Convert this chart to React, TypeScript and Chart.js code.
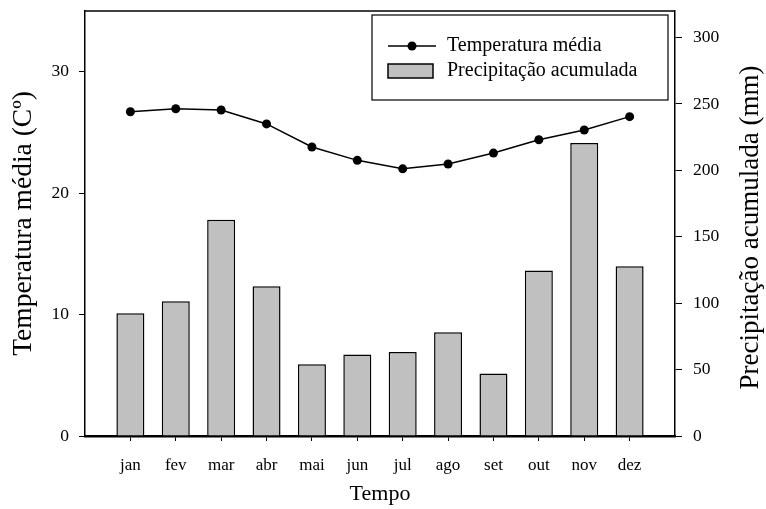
import React, { useEffect, useRef } from "react";
import { Chart, registerables } from "chart.js";

Chart.register(...registerables);

const months = ["jan", "fev", "mar", "abr", "mai", "jun", "jul", "ago", "set", "out", "nov", "dez"];
const temperature = [26.7, 26.95, 26.85, 25.7, 23.8, 22.7, 22.0, 22.4, 23.3, 24.4, 25.2, 26.3];
const precipitation = [92.4, 101.5, 162.8, 112.8, 54.0, 61.3, 63.3, 78.1, 47.0, 124.6, 220.6, 127.9];
const tempLabel = "Temperatura média";
const precLabel = "Precipitação acumulada";
const xTitle = "Tempo";
const yLeftTitle = "Temperatura média (Cº)";
const yRightTitle = "Precipitação acumulada (mm)";

const FONT = "'Liberation Serif', 'Times New Roman', serif";

const framePlugin = {
  id: "frame",
  afterDatasetsDraw(chart: any) {
    const { ctx, chartArea } = chart;
    const { left, right, top, bottom } = chartArea;
    ctx.save();
    ctx.strokeStyle = "#000";
    ctx.lineWidth = 1.5;
    ctx.beginPath();
    ctx.moveTo(left, top);
    ctx.lineTo(right, top);
    ctx.stroke();

    // legend box
    const bw = 296, bh = 85;
    const bx = right - 7 - bw;
    const by = top + 4;
    ctx.fillStyle = "#fff";
    ctx.fillRect(bx, by, bw, bh);
    ctx.lineWidth = 1.2;
    ctx.strokeRect(bx, by, bw, bh);

    const r1 = by + 31;
    const r2 = by + 56;
    ctx.lineWidth = 1.5;
    ctx.beginPath();
    ctx.moveTo(bx + 16, r1);
    ctx.lineTo(bx + 64, r1);
    ctx.stroke();
    ctx.fillStyle = "#000";
    ctx.beginPath();
    ctx.arc(bx + 40, r1, 4.5, 0, Math.PI * 2);
    ctx.fill();

    ctx.fillStyle = "#c0c0c0";
    ctx.fillRect(bx + 16, r2 - 7, 45, 14);
    ctx.strokeRect(bx + 16, r2 - 7, 45, 14);

    ctx.fillStyle = "#000";
    ctx.font = `20px ${FONT}`;
    ctx.textBaseline = "middle";
    ctx.textAlign = "left";
    ctx.fillText(tempLabel, bx + 75, r1);
    ctx.fillText(precLabel, bx + 75, r2);

    // right axis title, reading bottom-to-top
    ctx.font = `27px ${FONT}`;
    ctx.textAlign = "center";
    ctx.translate(chart.width - 15, (top + bottom) / 2 + 4);
    ctx.rotate(-Math.PI / 2);
    ctx.fillText(yRightTitle, 0, 0);
    ctx.restore();
  },
};

export default function App() {
  const ref = useRef<HTMLCanvasElement>(null);
  useEffect(() => {
    if (!ref.current) return;
    const labels = ["", ...months, ""];
    const tData = [null, ...temperature, null];
    const pData = [null, ...precipitation, null];
    const chart = new Chart(ref.current, {
      type: "bar",
      data: {
        labels,
        datasets: [
          {
            type: "line",
            label: tempLabel,
            data: tData as any,
            yAxisID: "y",
            borderColor: "#000",
            backgroundColor: "#000",
            borderWidth: 1.5,
            pointRadius: 4.5,
            pointBackgroundColor: "#000",
            pointBorderWidth: 0,
            tension: 0,
            order: 0,
          } as any,
          {
            type: "bar",
            label: precLabel,
            data: pData as any,
            yAxisID: "y1",
            backgroundColor: "#c0c0c0",
            borderColor: "#000",
            borderWidth: 1.5,
            categoryPercentage: 1,
            barPercentage: 0.617,
            order: 1,
          } as any,
        ],
      },
      options: {
        responsive: false,
        animation: false,
        layout: { padding: { top: 11, left: 0, right: 0, bottom: 0 } },
        plugins: { legend: { display: false }, tooltip: { enabled: false } },
        scales: {
          x: {
            offset: false,
            afterFit: (s: any) => { s.height = 73; s.paddingLeft = 0; s.paddingRight = 0; },
            grid: { drawOnChartArea: false, offset: false, tickLength: 5, color: "#000", lineWidth: 1 },
            border: { display: true, color: "#000", width: 2.5 },
            ticks: {
              color: "#000",
              font: { family: FONT, size: 17 },
              padding: 14,
              autoSkip: false,
              maxRotation: 0,
              callback: (v: any, i: number) => (labels[i] === "" ? null : labels[i]),
            },
            title: {
              display: true,
              text: xTitle,
              color: "#000",
              font: { family: FONT, size: 22 },
              padding: { top: 0, bottom: 2 },
            },
          },
          y: {
            position: "left",
            min: 0,
            max: 35,
            afterFit: (s: any) => { s.width = 85; s.paddingTop = 0; s.paddingBottom = 0; },
            grid: { drawOnChartArea: false, tickLength: 6, color: "#000" },
            border: { display: true, color: "#000", width: 1.5 },
            ticks: {
              stepSize: 10,
              includeBounds: false,
              color: "#000",
              font: { family: FONT, size: 17.5 },
              padding: 10,
            },
            title: {
              display: true,
              text: yLeftTitle,
              color: "#000",
              font: { family: FONT, size: 27.5 },
              padding: { top: 7, bottom: 0 },
            },
          },
          y1: {
            position: "right",
            min: 0,
            max: 320,
            afterFit: (s: any) => { s.width = 91; s.paddingTop = 0; s.paddingBottom = 0; },
            grid: { drawOnChartArea: false, tickLength: 7, color: "#000" },
            border: { display: true, color: "#000", width: 1.5 },
            ticks: {
              stepSize: 50,
              includeBounds: false,
              color: "#000",
              font: { family: FONT, size: 17.5 },
              padding: 11,
            },
            title: { display: false },
          },
        },
      } as any,
      plugins: [framePlugin],
    });
    return () => chart.destroy();
  }, []);
  return (
    <canvas
      ref={ref}
      width={766}
      height={509}
      style={{ position: "absolute", left: 0, top: 0, width: 766, height: 509 }}
    />
  );
}
